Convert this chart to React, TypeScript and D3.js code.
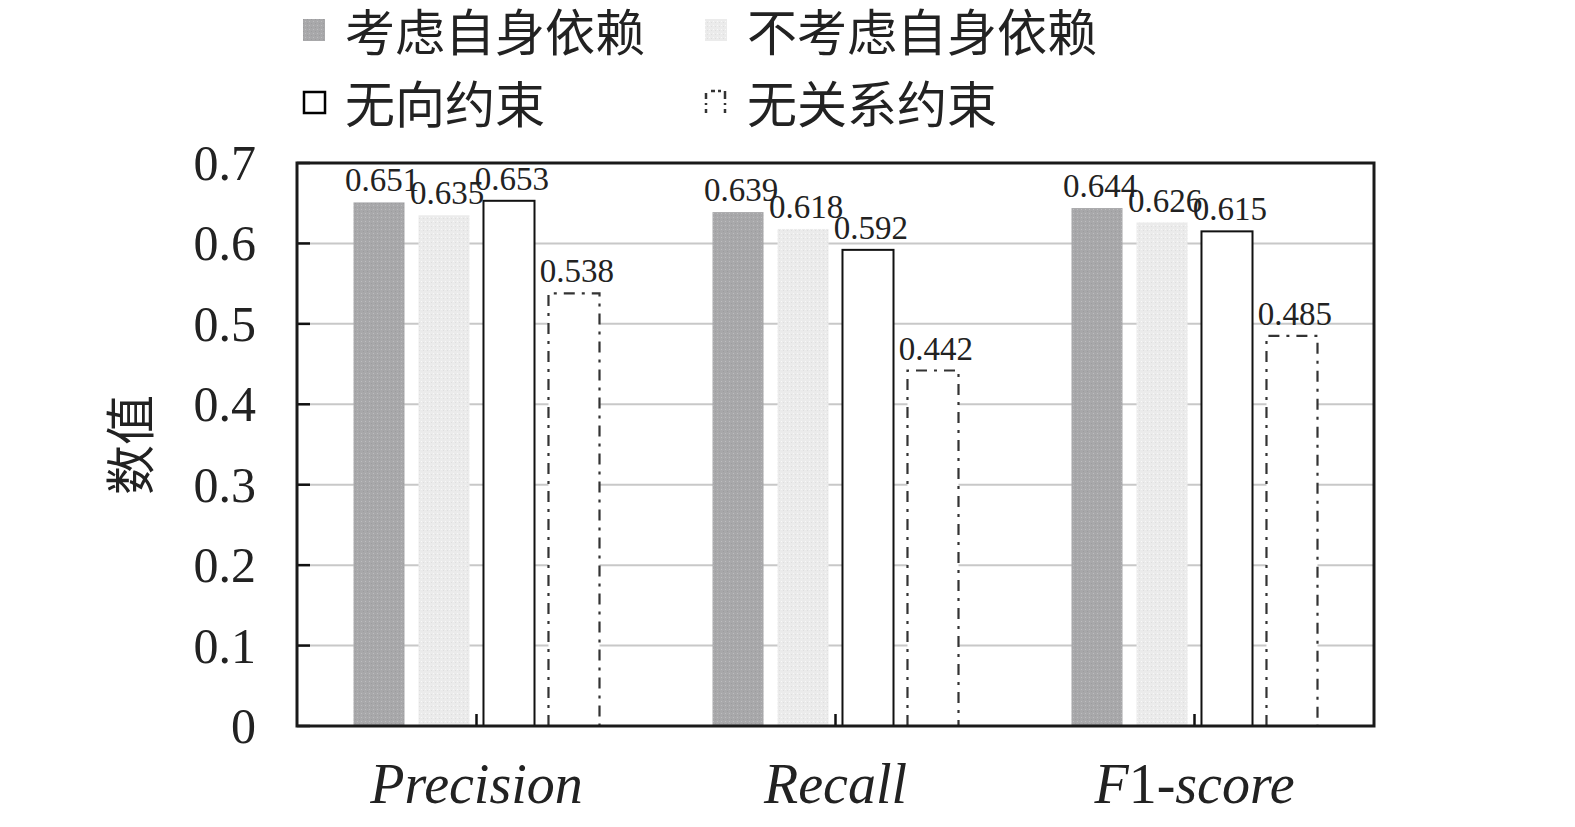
import React from 'react';
import * as d3 from 'd3';

// chart values
const categories = ['Precision', 'Recall', 'F1-score'];
const seriesNames = ['考虑自身依赖', '不考虑自身依赖', '无向约束', '无关系约束'];
const series1 = [0.651, 0.639, 0.644];
const series2 = [0.635, 0.618, 0.626];
const series3 = [0.653, 0.592, 0.615];
const series4 = [0.538, 0.442, 0.485];
const yTicks = [0, 0.1, 0.2, 0.3, 0.4, 0.5, 0.6, 0.7];

const allSeries = [series1, series2, series3, series4];

const width = 1575;
const height = 827;
const marginLeft = 297;
const marginRight = 201;
const marginTop = 163;
const marginBottom = 101;

const serif = '"Liberation Serif", "DejaVu Serif", serif';
const cjk = '"Noto Sans CJK SC", sans-serif';
const dashDot = '11 7 3 7';

const App = () => {
  const x0 = d3.scaleBand()
    .domain(categories)
    .range([marginLeft, width - marginRight])
    .padding(0);

  // bars sit in the middle part of each group
  const groupInner = 246;
  const x1 = d3.scaleBand()
    .domain(d3.range(allSeries.length).map(String))
    .range([0, groupInner])
    .paddingInner(0.215)
    .paddingOuter(0);

  const y = d3.scaleLinear()
    .domain([0, 0.7])
    .range([height - marginBottom, marginTop]);

  const fills = ['url(#dark)', 'url(#light)', '#ffffff', '#ffffff'];

  const barX = (c, i) => x0(c) + (x0.bandwidth() - groupInner) / 2 + x1(String(i));

  return (
    <svg width={width} height={height} style={{ position: 'absolute', left: 0, top: 0, background: '#fff' }}>
      <defs>
        <pattern id="dark" width="4" height="4" patternUnits="userSpaceOnUse">
          <rect width="4" height="4" fill="#a8a8aa" />
          <rect x="1" y="1" width="1" height="1" fill="#bdbdbf" />
          <rect x="3" y="3" width="1" height="1" fill="#9c9c9e" />
        </pattern>
        <pattern id="light" width="4" height="4" patternUnits="userSpaceOnUse">
          <rect width="4" height="4" fill="#ebebeb" />
          <rect x="1" y="1" width="1" height="1" fill="#f8f8f8" />
          <rect x="3" y="2" width="1" height="1" fill="#dedede" />
        </pattern>
      </defs>

      {/* legend */}
      <g>
        {seriesNames.map((name, i) => {
          const lx = i % 2 === 0 ? 303 : 705;
          const ly = i < 2 ? 30 : 102;
          return (
            <g key={name}>
              {i === 0 && <rect x={lx} y={ly - 11} width={22} height={22} fill="url(#dark)" />}
              {i === 1 && <rect x={lx} y={ly - 11} width={22} height={22} fill="url(#light)" />}
              {i === 2 && <rect x={lx + 1} y={ly - 10} width={21} height={21} fill="#fff" stroke="#000" strokeWidth={2.5} />}
              {i === 3 && (
                <g stroke="#333" strokeWidth={2.5}>
                  <line x1={lx + 1} y1={ly - 9} x2={lx + 1} y2={ly + 11} strokeDasharray="6 4 2 4" />
                  <line x1={lx + 20} y1={ly - 11} x2={lx + 20} y2={ly + 11} strokeDasharray="8 4 2 4" />
                  <line x1={lx + 6} y1={ly - 11} x2={lx + 16} y2={ly - 11} strokeDasharray="4 3" />
                </g>
              )}
              <text x={lx + 42} y={ly + 21} fontFamily={cjk} fontSize={50} fill="#222">{name}</text>
            </g>
          );
        })}
      </g>

      {/* gridlines */}
      <g>
        {yTicks.filter((t) => t > 0 && t < 0.7).map((t) => (
          <line key={t} x1={marginLeft} x2={width - marginRight} y1={y(t)} y2={y(t)} stroke="#c8c8c8" strokeWidth={2} />
        ))}
      </g>

      {/* bars */}
      <g>
        {allSeries.map((vals, i) => (
          <g key={i}>
            {vals.map((v, j) => {
              const c = categories[j];
              const bx = barX(c, i);
              const bw = x1.bandwidth();
              const top = y(v);
              const bottom = y(0);
              if (i === 3) {
                return (
                  <g key={c}>
                    <rect x={bx} y={top} width={bw} height={bottom - top} fill="#fff" />
                    <path
                      d={`M${bx},${bottom} L${bx},${top} L${bx + bw},${top} L${bx + bw},${bottom}`}
                      fill="none"
                      stroke="#333"
                      strokeWidth={2.2}
                      strokeDasharray={dashDot}
                    />
                  </g>
                );
              }
              return (
                <rect
                  key={c}
                  x={bx}
                  y={top}
                  width={bw}
                  height={bottom - top}
                  fill={fills[i]}
                  stroke={i === 2 ? '#111' : 'none'}
                  strokeWidth={2}
                />
              );
            })}
          </g>
        ))}
      </g>

      {/* value labels */}
      <g fontFamily={serif} fontSize={33} fill="#222" textAnchor="middle">
        {allSeries.map((vals, i) =>
          vals.map((v, j) => (
            <text key={`${i}-${j}`} x={barX(categories[j], i) + x1.bandwidth() / 2 + 3} y={y(v) - 11}>
              {v.toFixed(3)}
            </text>
          ))
        )}
      </g>

      {/* category ticks at group centres */}
      <g>
        {categories.map((c) => (
          <line key={c} x1={x0(c) + x0.bandwidth() / 2} x2={x0(c) + x0.bandwidth() / 2} y1={y(0)} y2={y(0) - 12} stroke="#111" strokeWidth={2.5} />
        ))}
      </g>

      {/* y ticks */}
      <g>
        {yTicks.map((t) => (
          <g key={t}>
            <line x1={marginLeft} x2={marginLeft + 13} y1={y(t)} y2={y(t)} stroke="#111" strokeWidth={2.5} />
            <text x={256} y={y(t) + 17} fontFamily={serif} fontSize={50} textAnchor="end" fill="#222">
              {d3.format('.1~f')(t)}
            </text>
          </g>
        ))}
      </g>

      {/* plot frame */}
      <rect
        x={marginLeft}
        y={marginTop}
        width={width - marginLeft - marginRight}
        height={height - marginTop - marginBottom}
        fill="none"
        stroke="#1a1a1a"
        strokeWidth={3}
      />

      {/* category labels */}
      <g fontFamily={serif} fontSize={56} fill="#222" textAnchor="middle">
        {categories.map((c) => (
          <text key={c} x={x0(c) + x0.bandwidth() / 2} y={803} fontStyle="italic">
            {c === 'F1-score' ? (
              <>
                <tspan>F</tspan>
                <tspan fontStyle="normal">1</tspan>
                <tspan>-score</tspan>
              </>
            ) : c}
          </text>
        ))}
      </g>

      {/* y axis title */}
      <text
        transform={`translate(149,${445}) rotate(-90)`}
        fontFamily={cjk}
        fontSize={50}
        textAnchor="middle"
        fill="#222"
      >
        数值
      </text>
    </svg>
  );
};

export default App;
